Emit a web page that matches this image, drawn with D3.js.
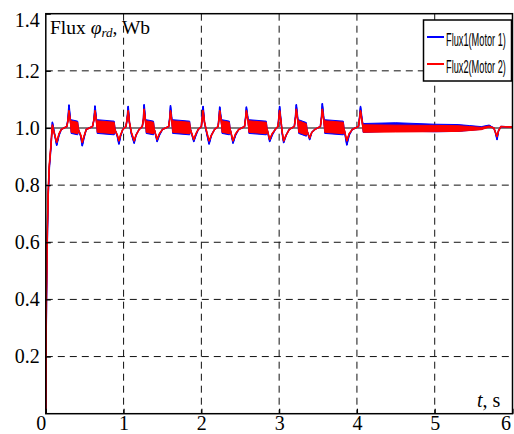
<!DOCTYPE html>
<html>
<head>
<meta charset="utf-8">
<script src="https://cdn.jsdelivr.net/npm/d3@7"></script>
<style>
  html, body { margin: 0; padding: 0; background: #fff; }
  svg { display: block; }
</style>
</head>
<body>
<svg id="chart" width="514" height="434"></svg>
<script>
// Time points (s); one row per spike event
const timeS = [
  0, 0.005, 0.015, 0.03, 0.045, 0.065, 0.085, 0.105, 0.14, 0.17, 0.20, 0.27,
  0.285, 0.298, 0.315, 0.325, 0.41, 0.425, 0.45, 0.469, 0.49, 0.52, 0.60,
  0.62, 0.632, 0.65, 0.66, 0.88, 0.895, 0.92, 0.94, 0.96, 0.99, 1.03,
  1.045, 1.059, 1.075, 1.10, 1.136, 1.16, 1.20, 1.24,
  1.255, 1.264, 1.28, 1.29, 1.385, 1.40, 1.431, 1.46, 1.50, 1.58,
  1.595, 1.603, 1.62, 1.63, 1.85, 1.865, 1.902, 1.93, 1.96, 2.00,
  2.012, 2.022, 2.04, 2.07, 2.099, 2.13, 2.17, 2.215,
  2.228, 2.236, 2.255, 2.265, 2.36, 2.375, 2.407, 2.44, 2.48, 2.555,
  2.57, 2.579, 2.60, 2.61, 2.835, 2.85, 2.878, 2.91, 2.95, 2.985,
  2.997, 3.006, 3.025, 3.04, 3.058, 3.09, 3.13, 3.195,
  3.21, 3.221, 3.24, 3.25, 3.35, 3.365, 3.392, 3.42, 3.46, 3.53,
  3.545, 3.555, 3.575, 3.585, 3.825, 3.84, 3.87, 3.90, 3.94, 4.02,
  4.035, 4.046, 4.065, 4.08, 4.5, 5.0, 5.3, 5.45, 5.6, 5.70, 5.76, 5.78, 5.801, 5.82, 5.85, 6.0
];

// Flux of motor 1 (Wb)
const flux1 = [
  0, 0.30, 0.55, 0.76, 0.86, 0.93, 1.02, 0.99, 0.94, 0.975, 0.995, 1.005,
  1.03, 1.08, 1.03, 1.005, 1.0, 0.99, 0.97, 0.938, 0.965, 0.995, 1.005,
  1.03, 1.077, 1.03, 1.005, 1.0, 0.99, 0.97, 0.944, 0.97, 0.995, 1.005,
  1.03, 1.075, 1.02, 0.98, 0.947, 0.975, 0.995, 1.005,
  1.03, 1.081, 1.03, 1.005, 1.0, 0.99, 0.953, 0.975, 0.995, 1.005,
  1.04, 1.078, 1.03, 1.005, 1.0, 0.99, 0.953, 0.975, 0.995, 1.005,
  1.04, 1.075, 1.02, 0.98, 0.944, 0.975, 0.995, 1.005,
  1.04, 1.073, 1.03, 1.005, 1.0, 0.99, 0.947, 0.975, 0.995, 1.005,
  1.04, 1.073, 1.03, 1.005, 1.0, 0.99, 0.953, 0.975, 0.995, 1.005,
  1.04, 1.075, 1.02, 0.98, 0.949, 0.975, 0.995, 1.005,
  1.04, 1.081, 1.03, 1.005, 0.995, 0.985, 0.96, 0.985, 0.995, 1.005,
  1.04, 1.085, 1.03, 1.005, 1.0, 0.99, 0.941, 0.975, 0.995, 1.005,
  1.04, 1.075, 1.03, 1.0, 1.004, 1.0, 1.0, 1.0, 1.0, 1.008, 1.0, 0.985, 0.96, 0.99, 1.005, 1.003
];

// Flux of motor 2 (Wb)
const flux2 = [
  0, 0.32, 0.57, 0.77, 0.87, 0.935, 1.01, 0.985, 0.95, 0.98, 0.995, 1.005,
  1.025, 1.06, 1.025, 1.005, 1.0, 0.99, 0.975, 0.95, 0.97, 0.995, 1.005,
  1.03, 1.06, 1.025, 1.005, 1.0, 0.99, 0.975, 0.955, 0.975, 0.995, 1.005,
  1.03, 1.06, 1.02, 0.985, 0.955, 0.975, 0.995, 1.005,
  1.03, 1.065, 1.025, 1.005, 1.0, 0.99, 0.96, 0.98, 0.995, 1.005,
  1.035, 1.06, 1.025, 1.005, 1.0, 0.99, 0.96, 0.98, 0.995, 1.005,
  1.035, 1.06, 1.02, 0.985, 0.955, 0.975, 0.995, 1.005,
  1.035, 1.06, 1.025, 1.005, 1.0, 0.99, 0.955, 0.98, 0.995, 1.005,
  1.035, 1.06, 1.025, 1.005, 1.0, 0.99, 0.96, 0.98, 0.995, 1.005,
  1.035, 1.06, 1.02, 0.985, 0.955, 0.975, 0.995, 1.005,
  1.035, 1.065, 1.025, 1.005, 0.995, 0.985, 0.965, 0.985, 0.995, 1.005,
  1.035, 1.065, 1.025, 1.005, 1.0, 0.99, 0.955, 0.98, 0.995, 1.005,
  1.035, 1.06, 1.025, 0.998, 0.998, 0.998, 0.998, 0.998, 0.998, 1.005, 1.0, 0.985, 0.97, 0.99, 1.005, 1.003
];

// Half-width of the fast ripple band seen on the traces (Wb)
const ripple = [
  0, 0, 0, 0, 0, 0, 0, 0, 0, 0, 0, 0,
  0, 0, 0, 0.02, 0.02, 0, 0, 0, 0, 0, 0,
  0, 0, 0, 0.02, 0.02, 0, 0, 0, 0, 0, 0,
  0, 0, 0, 0, 0, 0, 0, 0,
  0, 0, 0, 0.02, 0.02, 0, 0, 0, 0, 0,
  0, 0, 0, 0.02, 0.02, 0, 0, 0, 0, 0,
  0, 0, 0, 0, 0, 0, 0, 0,
  0, 0, 0, 0.02, 0.02, 0, 0, 0, 0, 0,
  0, 0, 0, 0.02, 0.02, 0, 0, 0, 0, 0,
  0, 0, 0, 0, 0, 0, 0, 0,
  0, 0, 0, 0.02, 0.02, 0, 0, 0, 0, 0,
  0, 0, 0, 0.02, 0.02, 0, 0, 0, 0, 0,
  0, 0, 0, 0.013, 0.012, 0.011, 0.01, 0.007, 0.004, 0.002, 0, 0, 0, 0, 0, 0
];

const xTicks = [0, 1, 2, 3, 4, 5, 6];
const yTicks = [0.2, 0.4, 0.6, 0.8, 1.0, 1.2, 1.4];
const seriesNames = ["Flux1(Motor 1)", "Flux2(Motor 2)"];
const seriesColors = ["#0000ff", "#ff0000"];

const svg = d3.select("#chart");
const serif = "'Liberation Serif', 'Times New Roman', serif";

const x = d3.scaleLinear().domain([0, 6]).range([45.8, 512.5]);
const y = d3.scaleLinear().domain([0, 1.4]).range([413.7, 13.7]);

// Dashed grid
const grid = svg.append("g").attr("stroke", "#111").attr("stroke-width", 1)
  .attr("stroke-dasharray", "7,5");
grid.selectAll("line.vx")
  .data(xTicks.slice(1, -1))
  .enter().append("line")
  .attr("x1", d => x(d)).attr("x2", d => x(d))
  .attr("y1", y(1.4)).attr("y2", y(0));
grid.selectAll("line.hy")
  .data(yTicks.slice(0, -1))
  .enter().append("line")
  .attr("x1", x(0)).attr("x2", x(6))
  .attr("y1", d => y(d)).attr("y2", d => y(d));

// Reference level at 1.0
svg.append("line")
  .attr("x1", x(0)).attr("x2", x(6))
  .attr("y1", y(1.0)).attr("y2", y(1.0))
  .attr("stroke", "#808080").attr("stroke-width", 2);

// Traces: ripple band + centre line per motor
const idx = d3.range(timeS.length);
[flux1, flux2].forEach((vals, k) => {
  const spread = k === 0 ? 1.2 : 1.0;
  const band = d3.area()
    .x(i => x(timeS[i]))
    .y0(i => y(vals[i] - ripple[i] * spread))
    .y1(i => y(vals[i] + ripple[i] * spread));
  svg.append("path")
    .attr("d", band(idx))
    .attr("fill", seriesColors[k])
    .attr("stroke", seriesColors[k])
    .attr("stroke-width", 1);

  const line = d3.line()
    .x(i => x(timeS[i]))
    .y(i => y(vals[i]));
  svg.append("path")
    .attr("d", line(idx))
    .attr("fill", "none")
    .attr("stroke", seriesColors[k])
    .attr("stroke-width", 1.6)
    .attr("stroke-linejoin", "round");
});

// Axes with inward ticks
const xAxis = svg.append("g")
  .attr("transform", `translate(0,${y(0)})`)
  .call(d3.axisBottom(x).tickValues(xTicks).tickSize(-5).tickPadding(2).tickFormat(d3.format("d")));
const yAxis = svg.append("g")
  .attr("transform", `translate(${x(0)},0)`)
  .call(d3.axisLeft(y).tickValues(yTicks).tickSize(-5).tickPadding(6).tickFormat(d3.format(".1f")));

[xAxis, yAxis].forEach(g => {
  g.select(".domain").remove();
  g.selectAll(".tick line").attr("stroke", "#000").attr("stroke-width", 1.2);
  g.selectAll(".tick text")
    .attr("fill", "#000")
    .style("font-family", serif)
    .style("font-size", "20px");
});
// edge labels sit inside the picture
xAxis.selectAll(".tick text").attr("dx", d => d === 0 ? -5 : (d === 6 ? -7 : 0));
yAxis.selectAll(".tick text").attr("dy", d => d === 1.4 ? "0.62em" : "0.32em");

// Frame
svg.append("rect")
  .attr("x", x(0)).attr("y", y(1.4))
  .attr("width", x(6) - x(0)).attr("height", y(0) - y(1.4))
  .attr("fill", "none").attr("stroke", "#000").attr("stroke-width", 1.5);

// Title inside the plot
const title = svg.append("text")
  .attr("x", 50).attr("y", 34)
  .style("font-family", serif).style("font-size", "19.5px").attr("fill", "#000");
title.append("tspan").text("Flux ");
title.append("tspan").style("font-style", "italic").text("φ");
title.append("tspan").style("font-style", "italic").style("font-size", "13px")
  .attr("dy", 3).text("rd");
title.append("tspan").attr("dy", -3).text(", Wb");

// x axis name
const xName = svg.append("text")
  .attr("x", 477).attr("y", 407)
  .style("font-family", serif).style("font-size", "20px").attr("fill", "#000");
xName.append("tspan").style("font-style", "italic").text("t");
xName.append("tspan").text(", s");

// Legend (narrow text: horizontally squeezed)
const legend = svg.append("g");
legend.append("rect")
  .attr("x", 423.5).attr("y", 20).attr("width", 88).attr("height", 61)
  .attr("fill", "#fff").attr("stroke", "#000").attr("stroke-width", 1.5);
seriesNames.forEach((name, k) => {
  const ly = 37 + k * 27;
  legend.append("line")
    .attr("x1", 427).attr("x2", 444).attr("y1", ly).attr("y2", ly)
    .attr("stroke", seriesColors[k]).attr("stroke-width", 2);
  legend.append("g")
    .attr("transform", `translate(446,${ly + 8.5}) scale(0.485,1)`)
    .append("text")
    .style("font-family", "'Liberation Sans', Arial, sans-serif")
    .style("font-size", "19px").attr("fill", "#000")
    .text(name);
});
</script>
</body>
</html>
